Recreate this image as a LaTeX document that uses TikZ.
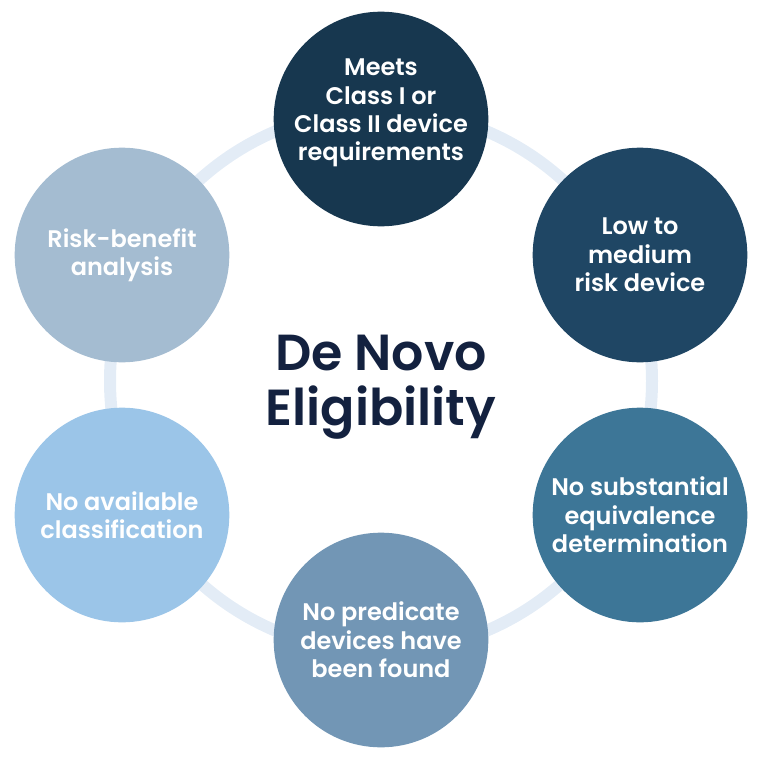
\documentclass[tikz,border=0pt]{standalone}
\usepackage{fontspec}
\setmainfont{Poppins}[BoldFont={Poppins SemiBold}]
\usetikzlibrary{calc}
\definecolor{ringblue}{HTML}{E3ECF6}
\definecolor{titlenavy}{HTML}{13213F}
\definecolor{meetsblue}{HTML}{17374F}
\definecolor{lowblue}{HTML}{1F4664}
\definecolor{subblue}{HTML}{3D7697}
\definecolor{predblue}{HTML}{7296B5}
\definecolor{classblue}{HTML}{9BC5E8}
\definecolor{riskblue}{HTML}{A4BCD1}
\tikzset{ring/.style={ringblue, line width=9pt}}
\tikzset{bubble/.style={circle, minimum size=161pt, inner sep=0pt}}
\tikzset{bubbletext/.style={align=center, text=white, font=\bfseries\fontsize{18}{21.3}\selectfont}}
\tikzset{title/.style={align=center, text=titlenavy, font=\bfseries\fontsize{38}{41}\selectfont}}

\begin{document}
\begin{tikzpicture}[x=0.75pt, y=-0.75pt]
    \useasboundingbox (0,0) rectangle (764,760);
    %Ring
    \coordinate (hub) at (381,381);
    \draw[ring] (hub) circle (203.25pt);
    %Bubbles
    \node[bubble, fill=meetsblue] (meets) at (381,119) {};
    \node[bubbletext] (meetstext) at ($(meets)+(0,-6)$) {Meets\\Class I or\\Class II device\\requirements};
    \node[bubble, bubbletext, fill=lowblue] (lowrisk) at (640,255) {Low to\\medium\\risk device};
    \node[bubble, bubbletext, fill=subblue] (noequiv) at (640,515) {No substantial\\equivalence\\determination};
    \node[bubble, bubbletext, fill=predblue] (nopred) at (381,640) {No predicate\\devices have\\been found};
    \node[bubble, bubbletext, fill=classblue] (noclass) at (122,515) {No available\\classification};
    \node[bubble, bubbletext, fill=riskblue] (riskben) at (122,255) {Risk-benefit\\analysis};
    %Title
    \node[title] (title) at ($(hub)+(0,6)$) {De Novo\\Eligibility};
\end{tikzpicture}
\end{document}
